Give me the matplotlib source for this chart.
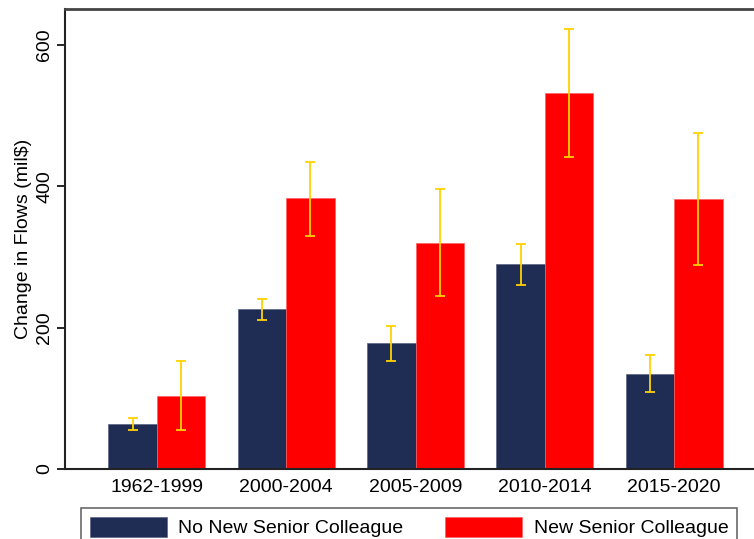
import matplotlib.pyplot as plt
import numpy as np

plt.rcParams['font.family'] = ['Liberation Sans', 'DejaVu Sans']

periods = ['1962-1999', '2000-2004', '2005-2009', '2010-2014', '2015-2020']

no_new = [64, 226, 178, 290, 135]
no_new_lo = [55, 211, 153, 260, 109]
no_new_hi = [72, 240, 202, 318, 161]

new = [103, 383, 320, 532, 382]
new_lo = [55, 330, 245, 441, 288]
new_hi = [153, 434, 396, 622, 476]

navy = '#1f2c54'
red = '#ff0000'
gold = '#ffd200'

fig = plt.figure(figsize=(7.54, 5.39), dpi=100)
ax = fig.add_axes([65 / 754, 1 - 469 / 539, 701 / 754, 460 / 539])

x = np.arange(len(periods))
w = 0.375

def yerr(mid, lo, hi):
    mid = np.array(mid)
    return [mid - np.array(lo), np.array(hi) - mid]

ax.bar(x - w / 2, no_new, w, color=navy, edgecolor='#5a6585', linewidth=0.5,
       label='No New Senior Colleague')
ax.bar(x + w / 2, new, w, color=red, edgecolor='#ff6060', linewidth=0.5,
       label='New Senior Colleague')
ax.errorbar(x - w / 2, no_new, yerr=yerr(no_new, no_new_lo, no_new_hi), fmt='none',
            ecolor=gold, elinewidth=1.3, capsize=3.6, capthick=1.3)
ax.errorbar(x + w / 2, new, yerr=yerr(new, new_lo, new_hi), fmt='none',
            ecolor=gold, elinewidth=1.3, capsize=3.6, capthick=1.3)

ax.set_xlim(-0.71, 4.71)
ax.set_ylim(0, 651)
ax.set_xticks(x)
ax.set_xticklabels(periods, fontsize=14)
ax.set_yticks([0, 200, 400, 600])
ax.set_yticklabels(['0', '200', '400', '600'], fontsize=14, rotation=90, va='center')
ax.tick_params(axis='x', length=0, pad=7)
ax.tick_params(axis='y', length=6, width=1.2, pad=2.5)
ax.set_ylabel('Change in Flows (mil$)', fontsize=14, labelpad=3)

for side in ['left', 'bottom']:
    ax.spines[side].set_color('#222222')
    ax.spines[side].set_linewidth(1.5)
for side in ['top', 'right']:
    ax.spines[side].set_color('#444444')
    ax.spines[side].set_linewidth(2)

leg = fig.legend(loc='upper left', bbox_to_anchor=(81 / 754, 1 - 508 / 539),
                 ncol=2, fontsize=14, frameon=True, fancybox=False,
                 edgecolor='#444444', handlelength=3.95, handleheight=1.2,
                 handletextpad=0.6, columnspacing=2.15, borderaxespad=0,
                 borderpad=0.45)
leg.get_frame().set_linewidth(1.2)

fig.savefig('out.png', dpi=100)
